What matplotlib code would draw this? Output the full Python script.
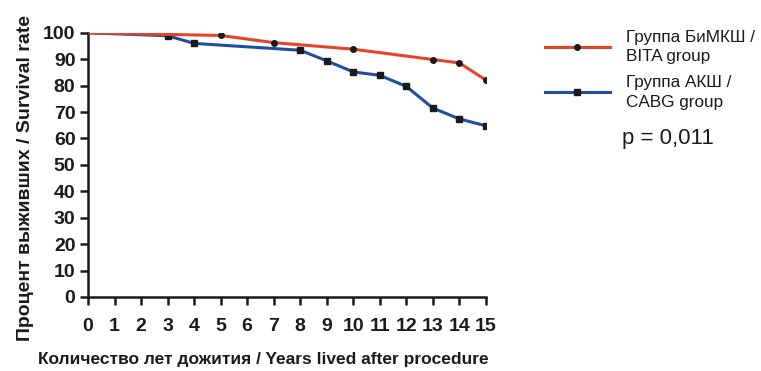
import matplotlib.pyplot as plt

plt.rcParams['font.family'] = ['Liberation Sans', 'DejaVu Sans']

years_bita = [0, 5, 7, 10, 13, 14, 15]
surv_bita = [100, 99.0, 96.3, 93.8, 89.9, 88.6, 82.1]
years_cabg = [0, 3, 4, 8, 9, 10, 11, 12, 13, 14, 15]
surv_cabg = [100, 98.9, 96.0, 93.4, 89.4, 85.2, 83.9, 79.7, 71.5, 67.4, 64.8]
labels = ['Группа БиМКШ /\nBITA group', 'Группа АКШ /\nCABG group']

fig = plt.figure(figsize=(7.61, 3.71), dpi=100)
ax = fig.add_axes([0.1156, 0.1995, 0.523, 0.712])

ax.plot(years_bita, surv_bita, color='#E8432A', lw=2.2, marker='o', ms=4,
        mfc='#1a1a1a', mec='#1a1a1a', markevery=list(range(1, len(years_bita))),
        label=labels[0], zorder=3)
ax.plot(years_cabg, surv_cabg, color='#1F4E9E', lw=2.2, marker='s', ms=4.5,
        mfc='#1a1a1a', mec='#1a1a1a', markevery=list(range(1, len(years_cabg))),
        label=labels[1], zorder=2)

ax.set_xlim(0, 15)
ax.set_ylim(0, 100)
ax.set_xticks(range(0, 16))
ax.set_yticks(range(0, 101, 10))
for s in ['top', 'right']:
    ax.spines[s].set_visible(False)
for s in ['left', 'bottom']:
    ax.spines[s].set_linewidth(1.8)
    ax.spines[s].set_color('#1a1a1a')
ax.tick_params(width=1.8, length=6, labelsize=14, colors='#1a1a1a', pad=3)
ax.tick_params(axis='x', pad=9)
for t in ax.get_xticklabels() + ax.get_yticklabels():
    t.set_fontweight('bold')

ax.set_xlabel('Количество лет дожития / Years lived after procedure',
              fontsize=12.5, fontweight='bold', color='#1a1a1a')
ax.xaxis.set_label_coords(0.44, -0.21)
ax.set_ylabel('Процент выживших / Survival rate',
              fontsize=14, fontweight='bold', color='#1a1a1a', va='center')
ax.yaxis.set_label_coords(-0.157, 0.45)

leg = fig.legend(loc='upper left', bbox_to_anchor=(0.716, 0.92), frameon=False,
                 fontsize=12.3, handlelength=3.8, handletextpad=0.95,
                 labelspacing=0.6, borderpad=0, borderaxespad=0)
for t in leg.get_texts():
    t.set_color('#1a1a1a')
    t.set_linespacing(1.4)

fig.text(0.818, 0.612, 'p = 0,011', fontsize=16, color='#1a1a1a')

fig.savefig('out.png', dpi=100)
